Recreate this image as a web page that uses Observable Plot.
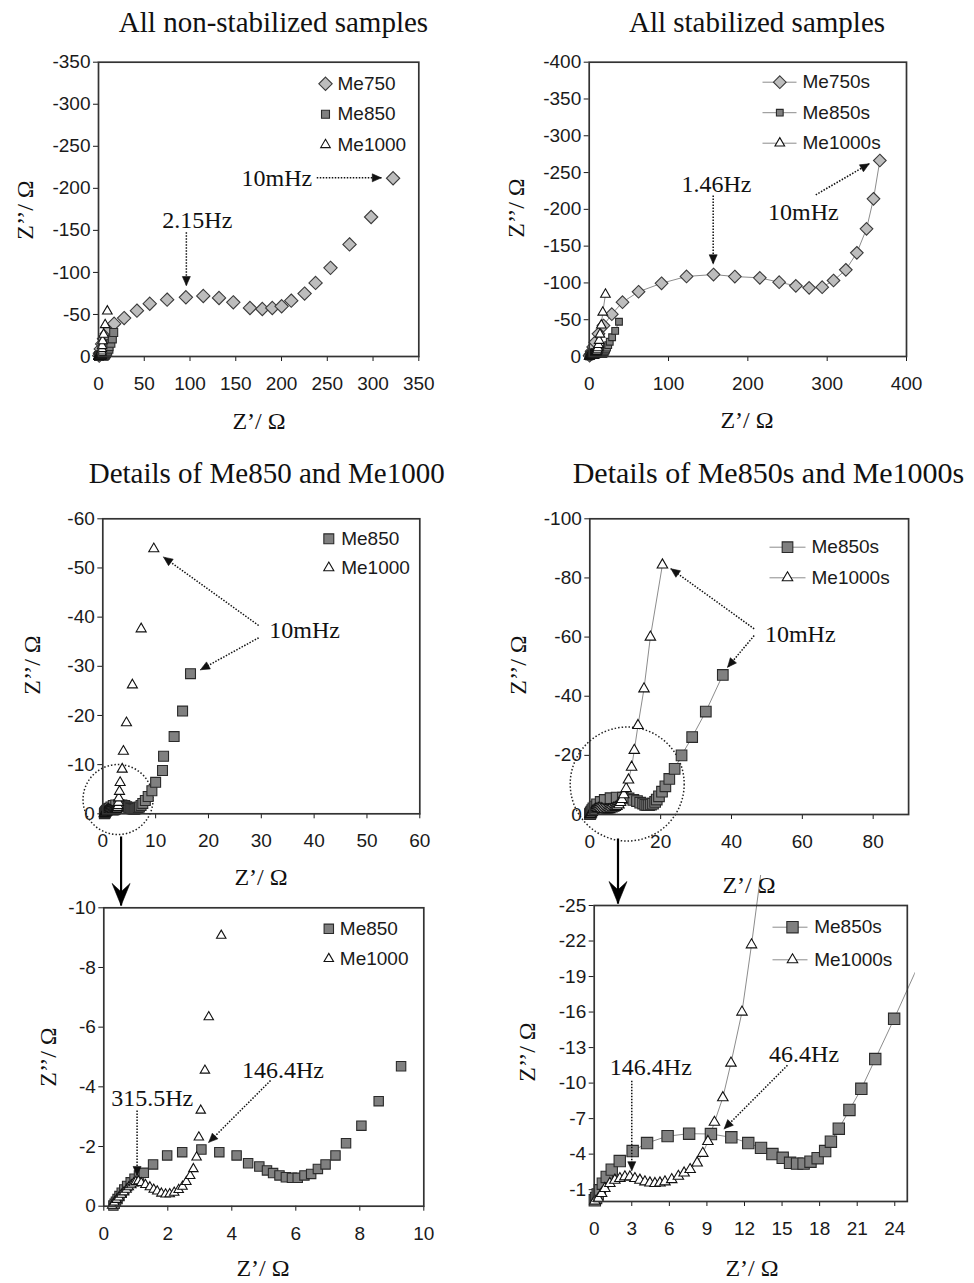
<!DOCTYPE html>
<html><head><meta charset="utf-8">
<script src="https://cdn.jsdelivr.net/npm/d3@7"></script>
<script src="https://cdn.jsdelivr.net/npm/@observablehq/plot@0.6"></script>
<style>
body{margin:0;background:#fff;}
#fig{position:relative;width:974px;height:1283px;overflow:hidden;background:#fff;}
.t{position:absolute;white-space:nowrap;font-family:"Liberation Serif","Times New Roman",serif;color:#111;line-height:1;}
</style></head><body><div id="fig"></div>
<script>
// ---------------- DATA ----------------
// Non-stabilized samples (Z' , Z'' in ohm)
const me750X = [0.8, 1.5, 2.5, 4, 6, 9, 12.5, 17.1, 28.0, 42.0, 56.0, 75.0, 95.5, 114.5, 131.7, 147.3, 165.5, 179.0, 189.9, 200.1, 210.6, 225.2, 237.2, 253.5, 274.3, 297.9, 321.9];
const me750Y = [-1, -4, -9, -15, -21, -27, -33, -39.0, -45.7, -54.5, -62.8, -67.6, -70.4, -72.0, -69.6, -64.4, -57.7, -56.5, -57.7, -59.7, -66.4, -74.8, -87.5, -105.4, -133.3, -165.9, -212.0];
const me850X = [0.30, 0.34, 0.38, 0.43, 0.49, 0.56, 0.64, 0.73, 0.84, 0.96, 1.10, 1.25, 1.54, 1.98, 2.45, 3.05, 3.61, 4.15, 4.51, 4.86, 5.10, 5.29, 5.49, 5.69, 5.88, 6.06, 6.27, 6.48, 6.69, 6.93, 7.24, 7.57, 8.05, 8.59, 9.29, 10.0, 11.3, 11.5, 13.5, 15.1, 16.6];
const me850Y = [-0.02, -0.08, -0.15, -0.24, -0.34, -0.45, -0.56, -0.68, -0.80, -0.92, -1.03, -1.12, -1.40, -1.70, -1.81, -1.90, -1.81, -1.70, -1.44, -1.33, -1.20, -1.11, -1.03, -0.97, -0.95, -0.95, -1.03, -1.08, -1.25, -1.40, -1.70, -2.11, -2.70, -3.52, -4.69, -6.4, -8.8, -11.7, -15.7, -20.9, -28.5];
const me1000X = [0.26, 0.33, 0.40, 0.47, 0.55, 0.63, 0.71, 0.78, 0.86, 0.93, 1.00, 1.08, 1.17, 1.30, 1.44, 1.56, 1.67, 1.80, 1.93, 2.06, 2.20, 2.34, 2.46, 2.58, 2.70, 2.80, 2.90, 2.97, 3.03, 3.16, 3.28, 3.67, 3.90, 4.48, 5.60, 7.26, 9.65];
const me1000Y = [-0.02, -0.13, -0.22, -0.30, -0.39, -0.47, -0.56, -0.64, -0.71, -0.77, -0.82, -0.84, -0.78, -0.72, -0.64, -0.56, -0.50, -0.43, -0.40, -0.41, -0.46, -0.55, -0.66, -0.82, -1.02, -1.25, -1.64, -2.31, -3.21, -4.55, -6.34, -9.07, -12.7, -18.5, -26.2, -37.6, -53.9];
// Stabilized samples
const me750sX = [0.5, 1.5, 3, 5, 7.6, 11.7, 18.0, 28.5, 42.0, 62.2, 91.2, 122.7, 156.7, 183.6, 215.1, 239.5, 260.5, 277.3, 293.7, 308.0, 323.5, 337.4, 349.6, 358.4, 366.4];
const me750sY = [-1, -3, -7, -13, -19.4, -30.8, -42.1, -57.5, -73.8, -88.0, -99.5, -108.8, -111.4, -108.7, -106.9, -101.0, -96.0, -93.3, -94.2, -103.3, -117.8, -140.9, -173.5, -214.3, -266.4];
const me850sX = [0.05, 0.15, 0.28, 0.45, 0.69, 1.0, 1.40, 2.04, 3.07, 4.22, 5.86, 7.58, 9.32, 10.95, 12.3, 13.32, 14.23, 15.05, 15.64, 16.2, 16.72, 17.27, 17.84, 18.44, 18.9, 19.53, 20.38, 21.33, 22.44, 23.95, 25.9, 28.9, 32.75, 37.55];
const me850sY = [-0.1, -0.3, -0.6, -0.95, -1.5, -2.07, -2.69, -3.42, -4.26, -4.94, -5.52, -5.73, -5.70, -5.42, -4.94, -4.53, -4.01, -3.69, -3.27, -3.2, -3.2, -3.36, -3.66, -4.26, -5.05, -6.15, -7.73, -9.52, -12.03, -15.43, -20.0, -26.2, -34.8, -47.2];
const me1000sX = [0.05, 0.32, 0.59, 0.85, 1.25, 1.65, 2.05, 2.45, 2.85, 3.25, 3.65, 4.05, 4.45, 4.85, 5.25, 5.65, 6.19, 6.72, 7.18, 7.66, 8.22, 8.67, 9.08, 9.6, 10.27, 10.92, 11.8, 12.56, 13.6, 15.3, 17.1, 20.5];
const me1000sY = [-0.05, -0.25, -0.68, -1.10, -1.52, -1.80, -1.94, -2.08, -2.08, -1.94, -1.80, -1.66, -1.57, -1.52, -1.57, -1.66, -1.85, -2.13, -2.41, -2.7, -3.26, -4.07, -5.07, -6.69, -8.77, -11.69, -16.0, -21.68, -30.1, -42.5, -60.0, -84.4];

// tick values
const p1XTicks = [0, 50, 100, 150, 200, 250, 300, 350];
const p1YTicks = [0, -50, -100, -150, -200, -250, -300, -350];
const p2XTicks = [0, 100, 200, 300, 400];
const p2YTicks = [0, -50, -100, -150, -200, -250, -300, -350, -400];
const p3XTicks = [0, 10, 20, 30, 40, 50, 60];
const p3YTicks = [0, -10, -20, -30, -40, -50, -60];
const p4XTicks = [0, 20, 40, 60, 80];
const p4YTicks = [0, -20, -40, -60, -80, -100];
const p5XTicks = [0, 2, 4, 6, 8, 10];
const p5YTicks = [0, -2, -4, -6, -8, -10];
const p6XTicks = [0, 3, 6, 9, 12, 15, 18, 21, 24];
const p6YTicks = [-1, -4, -7, -10, -13, -16, -19, -22, -25];

// texts
const panelTitles = ["All non-stabilized samples", "All stabilized samples", "Details of Me850 and Me1000", "Details of Me850s and Me1000s"];
const xTitle = "Z\u2019/ \u03A9";
const yTitle = "Z\u2019\u2019/ \u03A9";

// frequency annotations (data coordinates of each panel)
const annTexts = [
  {panel: "p1", text: "10mHz", x: 233.5, y: -212.5, anchor: "end"},
  {panel: "p1", text: "2.15Hz", x: 108, y: -161.7, anchor: "middle"},
  {panel: "p2", text: "1.46Hz", x: 160.5, y: -234.7, anchor: "middle"},
  {panel: "p2", text: "10mHz", x: 270, y: -196.1, anchor: "middle"},
  {panel: "p3", text: "10mHz", x: 38.2, y: -37.4, anchor: "middle"},
  {panel: "p4", text: "10mHz", x: 59.4, y: -61.1, anchor: "middle"},
  {panel: "p5", text: "315.5Hz", x: 1.51, y: -3.6, anchor: "middle"},
  {panel: "p5", text: "146.4Hz", x: 5.6, y: -4.55, anchor: "middle"},
  {panel: "p6", text: "146.4Hz", x: 4.52, y: -11.34, anchor: "middle"},
  {panel: "p6", text: "46.4Hz", x: 16.76, y: -12.47, anchor: "middle"}
];
const annArrows = [
  {panel: "p1", x1: 238.5, y1: -212.5, x2: 309, y2: -212.5},
  {panel: "p1", x1: 96, y1: -147.8, x2: 96, y2: -84.4},
  {panel: "p2", x1: 156.3, y1: -218.8, x2: 156.3, y2: -126},
  {panel: "p2", x1: 285.6, y1: -219.8, x2: 353, y2: -261.9},
  {panel: "p3", x1: 29.5, y1: -38.3, x2: 11.5, y2: -52.2},
  {panel: "p3", x1: 29.5, y1: -35.8, x2: 18.5, y2: -29.3},
  {panel: "p4", x1: 46.4, y1: -62.8, x2: 22.9, y2: -83.1},
  {panel: "p4", x1: 46.4, y1: -60.5, x2: 38.9, y2: -49.8},
  {panel: "p5", x1: 1.04, y1: -3.21, x2: 1.04, y2: -1.03},
  {panel: "p5", x1: 5.21, y1: -4.21, x2: 3.28, y2: -2.14},
  {panel: "p6", x1: 3.0, y1: -10.2, x2: 3.0, y2: -2.6},
  {panel: "p6", x1: 15.43, y1: -11.5, x2: 10.38, y2: -6.14}
];
const zoomCircles = [
  {panel: "p3", x: 2.88, y: -2.9, r: 35},
  {panel: "p4", x: 10.56, y: -10.3, r: 57}
];
const zoomArrows = [
  {panel: "p5", x1: 0.54, y1: -12.39, x2: 0.54, y2: -10.08},
  {panel: "p6", x1: 1.9, y1: -30.66, x2: 1.9, y2: -25.17}
];

// ---------------- STYLE / LAYOUT ----------------
const SERIF = '"Liberation Serif","Times New Roman",serif';
const SANS = '"Liberation Sans",Arial,sans-serif';
const SERIES = {
  Me750:  {x: me750X,  y: me750Y,  shape: "diamond"},
  Me850:  {x: me850X,  y: me850Y,  shape: "square"},
  Me1000: {x: me1000X, y: me1000Y, shape: "triangle"},
  Me750s: {x: me750sX, y: me750sY, shape: "diamond"},
  Me850s: {x: me850sX, y: me850sY, shape: "square"},
  Me1000s:{x: me1000sX,y: me1000sY,shape: "triangle"}
};
const SHAPES = {
  diamond:  {symbol: "diamond2", fill: "#bdbdbd", stroke: "#3a3a3a"},
  square:   {symbol: "square",   fill: "#808080", stroke: "#2a2a2a"},
  triangle: {symbol: "triangle2",fill: "#ffffff", stroke: "#111111"}
};

const PANELS = [
  {key: "p1", left: 0, top: 40, W: 487, H: 370, fx0: 98, fx1: 418.3, fyT: 61.7, fyB: 356,
   xDomain: [0, 350], yDomain: [0, -350], xTicks: p1XTicks, yTicks: p1YTicks,
   series: ["Me750", "Me850", "Me1000"], connect: false, r: {diamond: 6, square: 4.5, triangle: 4.6},
   legend: {sx: 325, sy: 83.3, tx: 337, step: 30.5, line: null}},
  {key: "p2", left: 487, top: 40, W: 487, H: 370, fx0: 588.7, fx1: 906, fyT: 61.7, fyB: 356,
   xDomain: [0, 400], yDomain: [0, -400], xTicks: p2XTicks, yTicks: p2YTicks,
   series: ["Me750s", "Me850s", "Me1000s"], connect: true, r: {diamond: 5.7, square: 3.8, triangle: 4.6},
   legend: {sx: 779.3, sy: 81.7, tx: 802, step: 30.5, line: [762, 796]}},
  {key: "p3", left: 0, top: 500, W: 487, H: 360, fx0: 102.3, fx1: 419.3, fyT: 518.3, fyB: 813.3,
   xDomain: [0, 60], yDomain: [0, -60], xTicks: p3XTicks, yTicks: p3YTicks,
   series: ["Me850", "Me1000"], connect: false, r: {square: 5.6, triangle: 4.8},
   legend: {sx: 328.3, sy: 538.3, tx: 340.7, step: 29, line: null}},
  {key: "p4", left: 487, top: 500, W: 487, H: 360, fx0: 589.3, fx1: 908.1, fyT: 518.3, fyB: 814,
   xDomain: [0, 90], yDomain: [0, -100], xTicks: p4XTicks, yTicks: p4YTicks,
   series: ["Me850s", "Me1000s"], connect: true, r: {square: 6, triangle: 5},
   legend: {sx: 787, sy: 546.7, tx: 811, step: 30.6, line: [769, 805]}},
  {key: "p5", left: 0, top: 825, W: 487, H: 420, fx0: 103.3, fx1: 423.3, fyT: 907.3, fyB: 1205.7,
   xDomain: [0, 10], yDomain: [0, -10], xTicks: p5XTicks, yTicks: p5YTicks,
   series: ["Me850", "Me1000"], connect: false, r: {square: 5.3, triangle: 4.5},
   legend: {sx: 328.3, sy: 928.3, tx: 339.3, step: 30, line: null}},
  {key: "p6", left: 487, top: 825, W: 487, H: 420, fx0: 593.7, fx1: 906.8, fyT: 905, fyB: 1201,
   xDomain: [0, 25], yDomain: [0, -25], xTicks: p6XTicks, yTicks: p6YTicks,
   series: ["Me850s", "Me1000s"], connect: true, r: {square: 6.4, triangle: 5},
   clipExtend: {top: 30, right: 8},
   legend: {sx: 792, sy: 926.7, tx: 813.7, step: 32.6, line: [772, 807]}}
];

const fig = document.getElementById("fig");

function rows(name) {
  const s = SERIES[name];
  return s.x.map((x, i) => ({x, y: s.y[i]}));
}

function headPoly(sx, sy, a, len, wid, id, barb) {
  const x1 = sx(a.x1), y1 = sy(a.y1), x2 = sx(a.x2), y2 = sy(a.y2);
  const dx = x2 - x1, dy = y2 - y1, L = Math.hypot(dx, dy);
  const ux = dx / L, uy = dy / L, nx = -uy, ny = ux;
  const bx = x2 - ux * len, by = y2 - uy * len;
  const pts = [[x2, y2], [bx + nx * wid / 2, by + ny * wid / 2]];
  if (barb) pts.push([x2 - ux * len * 0.62, y2 - uy * len * 0.62]);
  pts.push([bx - nx * wid / 2, by - ny * wid / 2], [x2, y2]);
  return pts.map(([px, py]) => ({id, x: sx.invert(px), y: sy.invert(py)}));
}

function drawPanel(p) {
  const mL = p.fx0 - p.left, mR = p.left + p.W - p.fx1, mT = p.fyT - p.top, mB = p.top + p.H - p.fyB;
  const sx = d3.scaleLinear(p.xDomain, [mL, p.W - mR]);
  const sy = d3.scaleLinear(p.yDomain, [p.H - mB, mT]);
  const toData = (px, py) => ({x: sx.invert(px - p.left), y: sy.invert(py - p.top)});
  const [xmin, xmax] = d3.extent(p.xDomain), [ymin, ymax] = d3.extent(p.yDomain);
  const inside = d => d.x >= xmin && d.x < xmax && d.y > ymin && d.y <= ymax;
  const marks = [];

  if (p.connect) for (const s of p.series)
    marks.push(Plot.line(rows(s), {x: "x", y: "y", stroke: "#8c8c8c", strokeWidth: 1, clip: true}));

  for (const c of zoomCircles.filter(c => c.panel === p.key))
    marks.push(Plot.dot([c], {x: "x", y: "y", r: c.r, fill: "none", stroke: "#222", strokeWidth: 1.5, strokeDasharray: "1.5,2"}));

  for (const s of p.series) {
    const sh = SHAPES[SERIES[s].shape];
    marks.push(Plot.dot(rows(s).filter(inside), {x: "x", y: "y", symbol: sh.symbol, r: p.r[SERIES[s].shape],
      fill: sh.fill, stroke: sh.stroke, strokeWidth: 1.1}));
  }

  // legend
  p.series.forEach((s, i) => {
    const L = p.legend, py = L.sy + i * L.step;
    const sh = SHAPES[SERIES[s].shape];
    if (L.line) {
      const a = toData(L.line[0], py), b = toData(L.line[1], py);
      marks.push(Plot.link([{x1: a.x, y1: a.y, x2: b.x, y2: b.y}], {x1: "x1", y1: "y1", x2: "x2", y2: "y2", stroke: "#8c8c8c", strokeWidth: 1}));
    }
    const c = toData(L.sx, py), t = toData(L.tx, py);
    marks.push(Plot.dot([c], {x: "x", y: "y", symbol: sh.symbol, r: p.r[SERIES[s].shape], fill: sh.fill, stroke: sh.stroke, strokeWidth: 1.1}));
    marks.push(Plot.text([{x: t.x, y: t.y, t: s}], {x: "x", y: "y", text: "t", textAnchor: "start", fontFamily: SANS, fontSize: 19, fill: "#1a1a1a"}));
  });

  // annotations
  const arrows = annArrows.filter(a => a.panel === p.key);
  if (arrows.length) {
    marks.push(Plot.link(arrows, {x1: "x1", y1: "y1", x2: "x2", y2: "y2", stroke: "#111", strokeWidth: 1.5, strokeDasharray: "1.5,1.5"}));
    const heads = arrows.flatMap((a, i) => headPoly(sx, sy, a, 9, 8, i, false));
    marks.push(Plot.line(heads, {x: "x", y: "y", z: "id", fill: "#111", stroke: "#111", strokeWidth: 0.6}));
  }
  const big = zoomArrows.filter(a => a.panel === p.key);
  if (big.length) {
    marks.push(Plot.link(big, {x1: "x1", y1: "y1", x2: "x2", y2: "y2", stroke: "#000", strokeWidth: 2.2}));
    const heads = big.flatMap((a, i) => headPoly(sx, sy, a, 22, 18, i, true));
    marks.push(Plot.line(heads, {x: "x", y: "y", z: "id", fill: "#000", stroke: "#000", strokeWidth: 0.6}));
  }
  const texts = annTexts.filter(a => a.panel === p.key);
  for (const a of texts)
    marks.push(Plot.text([a], {x: "x", y: "y", text: "text", textAnchor: a.anchor, fontFamily: SERIF, fontSize: 24, fill: "#111"}));

  marks.push(Plot.frame({stroke: "#333", strokeWidth: 1.7}));

  const svg = Plot.plot({
    width: p.W, height: p.H, marginLeft: mL, marginRight: mR, marginTop: mT, marginBottom: mB,
    x: {domain: p.xDomain, ticks: p.xTicks, tickFormat: d => String(d), tickSize: 5, tickPadding: 15, label: null},
    y: {domain: p.yDomain, ticks: p.yTicks, tickFormat: d => String(d), tickSize: 5, tickPadding: 3, label: null},
    style: {background: "transparent", overflow: "visible", fontSize: "19px", fontFamily: SANS, color: "#1a1a1a"},
    marks
  });
  svg.style.position = "absolute";
  svg.style.left = p.left + "px";
  svg.style.top = p.top + "px";
  if (p.clipExtend) {
    svg.querySelectorAll("clipPath rect").forEach(r => {
      const y = +r.getAttribute("y"), h = +r.getAttribute("height"), w = +r.getAttribute("width");
      r.setAttribute("y", y - p.clipExtend.top);
      r.setAttribute("height", h + p.clipExtend.top);
      r.setAttribute("width", w + p.clipExtend.right);
    });
  }
  fig.appendChild(svg);
}

PANELS.forEach(drawPanel);

// ---------------- HTML TEXT (titles, axis titles) ----------------
function addText(txt, cx, base, fs) {
  const d = document.createElement("div");
  d.className = "t";
  d.textContent = txt;
  d.style.fontSize = fs + "px";
  d.style.left = cx + "px";
  d.style.top = (base - 0.8375 * fs) + "px";
  d.style.transform = "translateX(-50%)";
  fig.appendChild(d);
}
function addVText(txt, cx, cy, fs) {
  const d = document.createElement("div");
  d.className = "t";
  d.textContent = txt;
  d.style.fontSize = fs + "px";
  d.style.left = cx + "px";
  d.style.top = cy + "px";
  d.style.transform = "translate(-50%,-50%) rotate(-90deg)";
  fig.appendChild(d);
}
const titlePos = [[273.5, 32, 29], [757, 32, 29], [266.7, 483, 29], [768.5, 483, 30]];
panelTitles.forEach((t, i) => addText(t, titlePos[i][0], titlePos[i][1], titlePos[i][2]));
const xTitlePos = [[259, 429], [747, 428], [261, 885], [749, 893], [263, 1276], [752, 1276]];
xTitlePos.forEach(([cx, b]) => addText(xTitle, cx, b, 24));
const yTitlePos = [[25, 210], [516, 208], [32, 665], [518, 665], [48, 1057], [527, 1052]];
yTitlePos.forEach(([cx, cy]) => addVText(yTitle, cx, cy, 24));
</script>
</body></html>
